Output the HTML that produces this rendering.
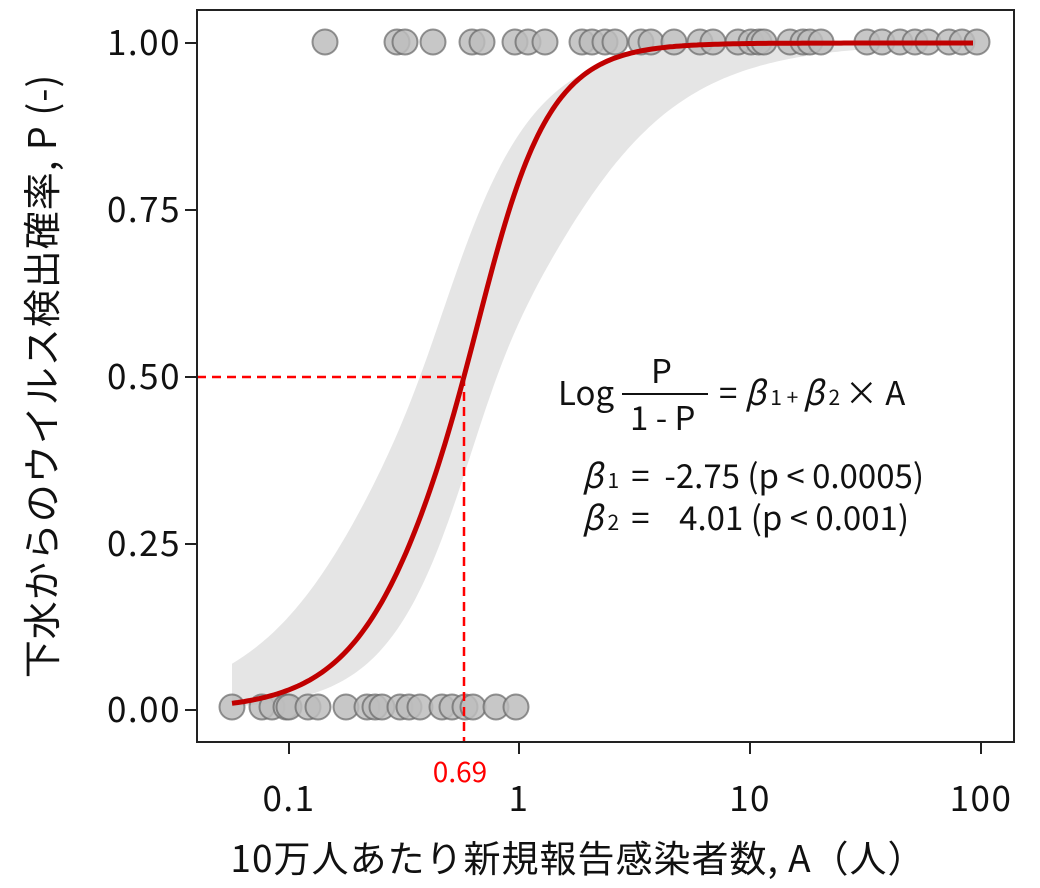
<!DOCTYPE html>
<html><head><meta charset="utf-8"><style>body{margin:0;background:#fff}svg{display:block}text{font-family:"Noto Sans CJK JP","Liberation Sans",sans-serif;fill:#111;white-space:pre}</style></head><body>
<svg width="1040" height="888" viewBox="0 0 1040 888">
<path id="band" fill="#e5e5e5"/>
<g fill="#bdbdbd" fill-opacity="0.85" stroke="#666" stroke-width="2" stroke-opacity="0.7">
<circle cx="232" cy="707" r="12.5"/><circle cx="262" cy="707" r="12.5"/><circle cx="272" cy="707" r="12.5"/><circle cx="286" cy="707" r="12.5"/><circle cx="289" cy="707" r="12.5"/><circle cx="308" cy="707" r="12.5"/><circle cx="318" cy="707" r="12.5"/><circle cx="346" cy="707" r="12.5"/><circle cx="367" cy="707" r="12.5"/><circle cx="375" cy="707" r="12.5"/><circle cx="382" cy="707" r="12.5"/><circle cx="400" cy="707" r="12.5"/><circle cx="409" cy="707" r="12.5"/><circle cx="420" cy="707" r="12.5"/><circle cx="442" cy="707" r="12.5"/><circle cx="452" cy="707" r="12.5"/><circle cx="465" cy="707" r="12.5"/><circle cx="473" cy="707" r="12.5"/><circle cx="496" cy="707" r="12.5"/><circle cx="516" cy="707" r="12.5"/>
<circle cx="325" cy="42" r="12.5"/><circle cx="397" cy="42" r="12.5"/><circle cx="405" cy="42" r="12.5"/><circle cx="433" cy="42" r="12.5"/><circle cx="472" cy="42" r="12.5"/><circle cx="482" cy="42" r="12.5"/><circle cx="515" cy="42" r="12.5"/><circle cx="528" cy="42" r="12.5"/><circle cx="545" cy="42" r="12.5"/><circle cx="582" cy="42" r="12.5"/><circle cx="592" cy="42" r="12.5"/><circle cx="605" cy="42" r="12.5"/><circle cx="615" cy="42" r="12.5"/><circle cx="641" cy="42" r="12.5"/><circle cx="651" cy="42" r="12.5"/><circle cx="674" cy="42" r="12.5"/><circle cx="700" cy="42" r="12.5"/><circle cx="713" cy="42" r="12.5"/><circle cx="738" cy="42" r="12.5"/><circle cx="751" cy="42" r="12.5"/><circle cx="759" cy="42" r="12.5"/><circle cx="764" cy="42" r="12.5"/><circle cx="790" cy="42" r="12.5"/><circle cx="803" cy="42" r="12.5"/><circle cx="810" cy="42" r="12.5"/><circle cx="821" cy="42" r="12.5"/><circle cx="867" cy="42" r="12.5"/><circle cx="882" cy="42" r="12.5"/><circle cx="900" cy="42" r="12.5"/><circle cx="915" cy="42" r="12.5"/><circle cx="928" cy="42" r="12.5"/><circle cx="949" cy="42" r="12.5"/><circle cx="962" cy="42" r="12.5"/><circle cx="977" cy="42" r="12.5"/>
</g>
<line x1="197" y1="377" x2="464" y2="377" stroke="#f00" stroke-width="2.5" stroke-dasharray="9,6"/>
<line x1="464" y1="377" x2="464" y2="742" stroke="#f00" stroke-width="2.5" stroke-dasharray="9,6"/>
<path id="curve" fill="none" stroke="#c00000" stroke-width="5"/>
<rect x="197" y="10" width="817" height="732" fill="none" stroke="#222" stroke-width="2"/>
<g stroke="#222" stroke-width="2">
<line x1="185" y1="43" x2="197" y2="43"/><line x1="185" y1="210" x2="197" y2="210"/><line x1="185" y1="377" x2="197" y2="377"/><line x1="185" y1="544" x2="197" y2="544"/><line x1="185" y1="710" x2="197" y2="710"/>
<line x1="289" y1="742" x2="289" y2="754"/><line x1="519" y1="742" x2="519" y2="754"/><line x1="750" y1="742" x2="750" y2="754"/><line x1="981" y1="742" x2="981" y2="754"/>
</g>
<g font-size="35" text-anchor="end" letter-spacing="1.5">
<text x="181" y="55">1.00</text><text x="181" y="222">0.75</text><text x="181" y="389">0.50</text><text x="181" y="556">0.25</text><text x="181" y="722">0.00</text>
</g>
<g font-size="35" text-anchor="middle" letter-spacing="1.5">
<text x="289" y="811">0.1</text><text x="519" y="811">1</text><text x="750" y="811">10</text><text x="981" y="811">100</text>
</g>
<text x="460" y="782" font-size="28" text-anchor="middle" style="fill:#f00">0.69</text>
<text x="578" y="872" font-size="37" text-anchor="middle" letter-spacing="1">10万人あたり新規報告感染者数, A（人）</text>
<text transform="translate(56,376) rotate(-90)" font-size="38" text-anchor="middle" letter-spacing="1">下水からのウイルス検出確率, P (-)</text>
<g font-size="33">
<text x="558" y="405">Log</text>
<text x="651" y="383">P</text>
<line x1="622" y1="394" x2="708" y2="394" stroke="#111" stroke-width="2"/>
<text x="630" y="430">1 - P</text>
<text x="719" y="405">= <tspan font-style="italic">β</tspan><tspan font-size="21"> 1 + </tspan><tspan font-style="italic">β</tspan><tspan font-size="21"> 2 </tspan>× A</text>
<text x="582" y="488"><tspan font-style="italic">β</tspan><tspan font-size="21"> 1 </tspan> =  -2.75 (p &lt; 0.0005)</text>
<text x="582" y="530"><tspan font-style="italic">β</tspan><tspan font-size="21"> 2 </tspan> =    4.01 (p &lt; 0.001)</text>
</g>
<script>
function yy(p){return 710-p*667;}
function L(z){return 1/(1+Math.exp(-z));}
function f(x,c,kb,ka){var d=x-c;var k=kb+(ka-kb)*L(d/25);return L(d*k);}
var c="",u=[],l=[];
for(var x=232;x<=975;x+=3){c+=(x==232?"M":"L")+x+","+yy(f(x,464,0.0198,0.025)).toFixed(1);
u.push(x+","+yy(f(x,420,0.0138,0.0187)).toFixed(1));l.push(x+","+yy(f(x,497,0.02,0.0127)).toFixed(1));}
document.getElementById("curve").setAttribute("d",c);
document.getElementById("band").setAttribute("d","M"+u.join("L")+"L"+l.reverse().join("L")+"Z");
</script>
</svg>
</body></html>
